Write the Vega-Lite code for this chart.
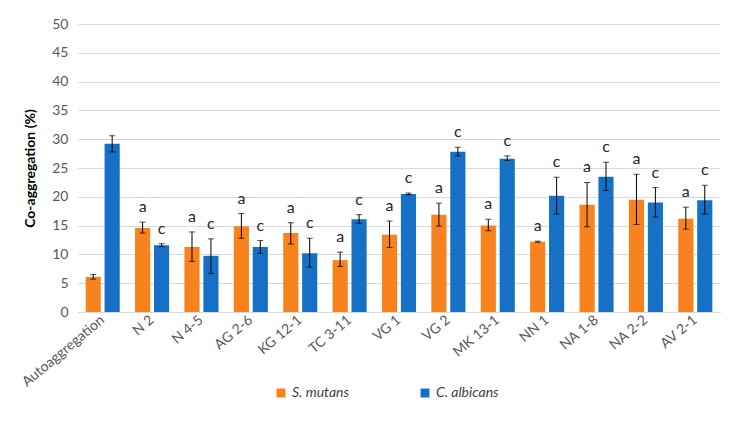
{
  "$schema": "https://vega.github.io/schema/vega-lite/v6.json",
  "autosize": {"type": "none"},
  "padding": {"left": 78, "top": 24, "right": 20, "bottom": 111},
  "width": 642,
  "height": 288,
  "background": "white",
  "config": {
    "view": {"stroke": null},
    "font": "Lato",
    "axis": {"labelFont": "Lato", "titleFont": "Lato", "labelColor": "#595959", "labelFontSize": 14},
    "axisY": {"tickCount": 10, "labelOverlap": false, "gridColor": "#D9D9D9", "domain": false, "ticks": false, "labelPadding": 10}
  },
  "data": {
    "values": [
      {"cat": "Autoaggregation", "species": "S. mutans", "mean": 6.1, "lo": 5.7, "hi": 6.5, "letter": ""},
      {"cat": "Autoaggregation", "species": "C. albicans", "mean": 29.2, "lo": 27.8, "hi": 30.6, "letter": ""},
      {"cat": "N 2", "species": "S. mutans", "mean": 14.6, "lo": 13.7, "hi": 15.6, "letter": "a"},
      {"cat": "N 2", "species": "C. albicans", "mean": 11.6, "lo": 11.35, "hi": 11.85, "letter": "c"},
      {"cat": "N 4-5", "species": "S. mutans", "mean": 11.3, "lo": 8.8, "hi": 13.9, "letter": "a"},
      {"cat": "N 4-5", "species": "C. albicans", "mean": 9.75, "lo": 6.7, "hi": 12.7, "letter": "c"},
      {"cat": "AG 2-6", "species": "S. mutans", "mean": 14.9, "lo": 12.8, "hi": 17.1, "letter": "a"},
      {"cat": "AG 2-6", "species": "C. albicans", "mean": 11.3, "lo": 10.2, "hi": 12.4, "letter": "c"},
      {"cat": "KG 12-1", "species": "S. mutans", "mean": 13.7, "lo": 11.8, "hi": 15.5, "letter": "a"},
      {"cat": "KG 12-1", "species": "C. albicans", "mean": 10.2, "lo": 7.8, "hi": 12.8, "letter": "c"},
      {"cat": "TC 3-11", "species": "S. mutans", "mean": 9.0, "lo": 7.9, "hi": 10.4, "letter": "a"},
      {"cat": "TC 3-11", "species": "C. albicans", "mean": 16.1, "lo": 15.4, "hi": 16.9, "letter": "c"},
      {"cat": "VG 1", "species": "S. mutans", "mean": 13.4, "lo": 11.2, "hi": 15.8, "letter": "a"},
      {"cat": "VG 1", "species": "C. albicans", "mean": 20.5, "lo": 20.35, "hi": 20.65, "letter": "c"},
      {"cat": "VG 2", "species": "S. mutans", "mean": 16.9, "lo": 14.9, "hi": 18.9, "letter": "a"},
      {"cat": "VG 2", "species": "C. albicans", "mean": 27.8, "lo": 27.1, "hi": 28.6, "letter": "c"},
      {"cat": "MK 13-1", "species": "S. mutans", "mean": 15.0, "lo": 14.1, "hi": 16.1, "letter": "a"},
      {"cat": "MK 13-1", "species": "C. albicans", "mean": 26.6, "lo": 26.3, "hi": 27.1, "letter": "c"},
      {"cat": "NN 1", "species": "S. mutans", "mean": 12.2, "lo": 12.1, "hi": 12.3, "letter": "a"},
      {"cat": "NN 1", "species": "C. albicans", "mean": 20.2, "lo": 17.0, "hi": 23.4, "letter": "c"},
      {"cat": "NA 1-8", "species": "S. mutans", "mean": 18.6, "lo": 14.8, "hi": 22.5, "letter": "a"},
      {"cat": "NA 1-8", "species": "C. albicans", "mean": 23.5, "lo": 21.1, "hi": 26.0, "letter": "c"},
      {"cat": "NA 2-2", "species": "S. mutans", "mean": 19.5, "lo": 15.2, "hi": 23.9, "letter": "a"},
      {"cat": "NA 2-2", "species": "C. albicans", "mean": 19.0, "lo": 16.5, "hi": 21.6, "letter": "c"},
      {"cat": "AV 2-1", "species": "S. mutans", "mean": 16.2, "lo": 14.4, "hi": 18.2, "letter": "a"},
      {"cat": "AV 2-1", "species": "C. albicans", "mean": 19.4, "lo": 17.0, "hi": 22.0, "letter": "c"}
    ]
  },
  "encoding": {
    "x": {
      "field": "cat",
      "type": "nominal",
      "sort": null,
      "scale": {"paddingInner": 0.31, "paddingOuter": 0.155},
      "axis": {
        "title": null,
        "labelAngle": -40,
        "labelAlign": "right",
        "labelBaseline": "middle",
        "labelPadding": 6,
        "ticks": false,
        "domainColor": "#D9D9D9",
        "labelFontSize": 14
      }
    },
    "xOffset": {
      "field": "species",
      "type": "nominal",
      "sort": ["S. mutans", "C. albicans"],
      "scale": {"paddingInner": 0.2}
    }
  },
  "layer": [
    {
      "mark": {"type": "bar"},
      "encoding": {
        "y": {
          "field": "mean",
          "type": "quantitative",
          "scale": {"domain": [0, 50]},
          "axis": {
            "title": "Co-aggregation (%)",
            "titleFontWeight": "bold",
            "titleFontSize": 14,
            "titleColor": "#000000",
            "titlePadding": 14
          }
        },
        "color": {
          "field": "species",
          "type": "nominal",
          "sort": ["S. mutans", "C. albicans"],
          "scale": {"domain": ["S. mutans", "C. albicans"], "range": ["#F7821E", "#1570C6"]},
          "legend": {
            "title": null,
            "orient": "none",
            "direction": "horizontal",
            "legendX": 196,
            "legendY": 362,
            "symbolType": "square",
            "symbolSize": 80,
            "labelFontStyle": "italic",
            "labelFontSize": 14,
            "labelColor": "#404040",
            "labelFont": "Lato",
            "columnPadding": 68
          }
        }
      }
    },
    {
      "mark": {"type": "rule", "color": "#000000", "strokeWidth": 1},
      "encoding": {
        "y": {"field": "lo", "type": "quantitative"},
        "y2": {"field": "hi"}
      }
    },
    {
      "mark": {"type": "tick", "color": "#000000", "size": 6, "thickness": 1},
      "encoding": {"y": {"field": "lo", "type": "quantitative"}}
    },
    {
      "mark": {"type": "tick", "color": "#000000", "size": 6, "thickness": 1},
      "encoding": {"y": {"field": "hi", "type": "quantitative"}}
    },
    {
      "mark": {"type": "text", "fontSize": 16, "color": "#262626", "baseline": "alphabetic", "dy": -10, "font": "Lato"},
      "encoding": {
        "y": {"field": "hi", "type": "quantitative"},
        "text": {"field": "letter"}
      }
    }
  ]
}
